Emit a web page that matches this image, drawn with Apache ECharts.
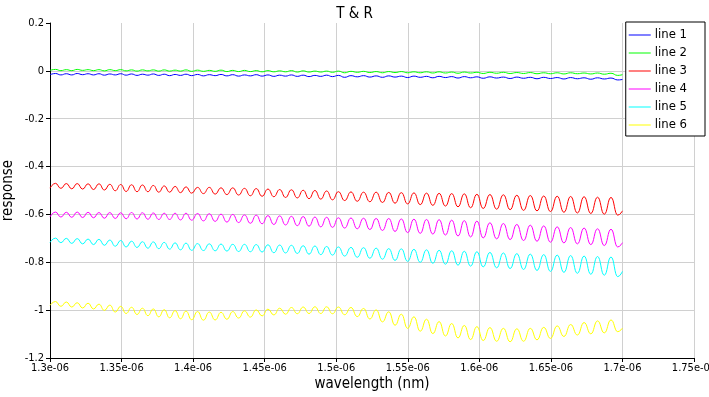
<!DOCTYPE html>
<html>
<head>
<meta charset="utf-8">
<script src="https://cdn.jsdelivr.net/npm/echarts@6/dist/echarts.min.js"></script>
<style>
  html, body { margin: 0; padding: 0; background: #fff; }
  #main { width: 709px; height: 397px; }
</style>
</head>
<body>
<div id="main"></div>
<script>
// wavelength samples, in units of 1e-6 (labels add the e-06)
var wl = [1.3000, 1.3038, 1.3076, 1.3114, 1.3152, 1.3190, 1.3228, 1.3266, 1.3304, 1.3342,
  1.3380, 1.3418, 1.3456, 1.3494, 1.3532, 1.3570, 1.3608, 1.3646, 1.3684, 1.3722,
  1.3760, 1.3798, 1.3836, 1.3874, 1.3912, 1.3950, 1.3990, 1.4031, 1.4072, 1.4113,
  1.4154, 1.4195, 1.4236, 1.4277, 1.4318, 1.4359, 1.4400, 1.4441, 1.4482, 1.4523,
  1.4564, 1.4605, 1.4646, 1.4687, 1.4728, 1.4769, 1.4810, 1.4851, 1.4892, 1.4933,
  1.4974, 1.5015, 1.5059, 1.5103, 1.5147, 1.5191, 1.5235, 1.5279, 1.5323, 1.5367,
  1.5411, 1.5455, 1.5499, 1.5543, 1.5587, 1.5631, 1.5675, 1.5719, 1.5763, 1.5807,
  1.5851, 1.5895, 1.5939, 1.5983, 1.6027, 1.6074, 1.6121, 1.6168, 1.6215, 1.6262,
  1.6309, 1.6356, 1.6403, 1.6450, 1.6497, 1.6544, 1.6591, 1.6638, 1.6685, 1.6732,
  1.6779, 1.6826, 1.6873, 1.6920, 1.6967, 1.7000];

var line1 = [-0.016, -0.011, -0.017, -0.012, -0.017, -0.011, -0.016, -0.012, -0.017, -0.012,
  -0.018, -0.013, -0.017, -0.012, -0.018, -0.013, -0.019, -0.014, -0.018, -0.013,
  -0.019, -0.014, -0.020, -0.015, -0.019, -0.014, -0.020, -0.015, -0.021, -0.016,
  -0.020, -0.015, -0.021, -0.016, -0.022, -0.017, -0.021, -0.016, -0.022, -0.017,
  -0.023, -0.018, -0.022, -0.017, -0.023, -0.018, -0.024, -0.019, -0.023, -0.018,
  -0.024, -0.019, -0.027, -0.020, -0.025, -0.020, -0.026, -0.021, -0.027, -0.021,
  -0.026, -0.022, -0.028, -0.022, -0.027, -0.023, -0.029, -0.023, -0.028, -0.024,
  -0.030, -0.024, -0.029, -0.025, -0.031, -0.025, -0.030, -0.026, -0.032, -0.026,
  -0.031, -0.027, -0.033, -0.027, -0.032, -0.028, -0.034, -0.028, -0.033, -0.029,
  -0.035, -0.029, -0.034, -0.030, -0.038, -0.036];

var line2 = [0.002, 0.006, 0.001, 0.005, 0.001, 0.006, 0.002, 0.005, 0.001, 0.005,
  0.000, 0.005, 0.001, 0.005, 0.000, 0.004, -0.001, 0.004, 0.000, 0.004,
  -0.001, 0.004, -0.001, 0.003, -0.001, 0.004, -0.002, 0.003, -0.002, 0.002,
  -0.002, 0.003, -0.003, 0.002, -0.003, 0.002, -0.003, 0.001, -0.004, 0.001,
  -0.004, 0.000, -0.004, 0.001, -0.005, 0.000, -0.005, -0.001, -0.005, -0.001,
  -0.006, -0.001, -0.008, -0.002, -0.006, -0.002, -0.007, -0.003, -0.008, -0.003,
  -0.007, -0.003, -0.008, -0.004, -0.008, -0.004, -0.009, -0.004, -0.009, -0.005,
  -0.010, -0.005, -0.009, -0.006, -0.011, -0.006, -0.010, -0.006, -0.011, -0.007,
  -0.011, -0.007, -0.012, -0.008, -0.012, -0.008, -0.013, -0.008, -0.012, -0.009,
  -0.013, -0.009, -0.014, -0.010, -0.019, -0.016];

var line3 = [-0.490, -0.470, -0.491, -0.471, -0.493, -0.471, -0.494, -0.472, -0.496, -0.472,
  -0.498, -0.474, -0.501, -0.475, -0.504, -0.476, -0.505, -0.477, -0.505, -0.479,
  -0.507, -0.481, -0.507, -0.483, -0.509, -0.485, -0.511, -0.487, -0.513, -0.487,
  -0.515, -0.489, -0.517, -0.489, -0.519, -0.491, -0.522, -0.492, -0.524, -0.494,
  -0.526, -0.496, -0.529, -0.497, -0.531, -0.499, -0.534, -0.500, -0.536, -0.502,
  -0.539, -0.505, -0.542, -0.506, -0.545, -0.507, -0.547, -0.507, -0.550, -0.508,
  -0.553, -0.509, -0.556, -0.510, -0.559, -0.511, -0.562, -0.512, -0.565, -0.513,
  -0.568, -0.514, -0.572, -0.516, -0.575, -0.517, -0.578, -0.518, -0.580, -0.520,
  -0.583, -0.521, -0.585, -0.523, -0.588, -0.524, -0.591, -0.525, -0.594, -0.526,
  -0.596, -0.528, -0.599, -0.529, -0.603, -0.585];

var line4 = [-0.610, -0.590, -0.611, -0.591, -0.612, -0.590, -0.613, -0.591, -0.614, -0.592,
  -0.616, -0.592, -0.617, -0.593, -0.618, -0.592, -0.619, -0.593, -0.620, -0.594,
  -0.621, -0.595, -0.621, -0.595, -0.623, -0.595, -0.624, -0.596, -0.627, -0.597,
  -0.629, -0.599, -0.632, -0.600, -0.634, -0.602, -0.637, -0.603, -0.639, -0.605,
  -0.642, -0.606, -0.644, -0.608, -0.647, -0.609, -0.649, -0.611, -0.652, -0.612,
  -0.654, -0.614, -0.657, -0.615, -0.660, -0.616, -0.663, -0.617, -0.667, -0.617,
  -0.671, -0.619, -0.676, -0.620, -0.679, -0.621, -0.682, -0.622, -0.686, -0.624,
  -0.690, -0.626, -0.694, -0.628, -0.698, -0.635, -0.702, -0.638, -0.705, -0.642,
  -0.709, -0.645, -0.712, -0.648, -0.716, -0.652, -0.719, -0.655, -0.723, -0.657,
  -0.726, -0.660, -0.730, -0.662, -0.736, -0.718];

var line5 = [-0.717, -0.699, -0.718, -0.700, -0.721, -0.701, -0.723, -0.703, -0.726, -0.704,
  -0.729, -0.707, -0.733, -0.709, -0.736, -0.712, -0.738, -0.714, -0.741, -0.715,
  -0.743, -0.717, -0.745, -0.719, -0.748, -0.720, -0.750, -0.722, -0.751, -0.723,
  -0.752, -0.724, -0.753, -0.725, -0.755, -0.725, -0.756, -0.726, -0.757, -0.727,
  -0.760, -0.728, -0.761, -0.729, -0.763, -0.731, -0.766, -0.732, -0.768, -0.734,
  -0.770, -0.736, -0.774, -0.738, -0.779, -0.739, -0.783, -0.741, -0.787, -0.743,
  -0.792, -0.744, -0.796, -0.746, -0.800, -0.748, -0.804, -0.750, -0.808, -0.752,
  -0.812, -0.754, -0.816, -0.756, -0.819, -0.759, -0.823, -0.761, -0.826, -0.764,
  -0.830, -0.766, -0.834, -0.768, -0.838, -0.770, -0.842, -0.772, -0.846, -0.774,
  -0.850, -0.776, -0.854, -0.778, -0.860, -0.838];

var line6 = [-0.980, -0.964, -0.984, -0.966, -0.987, -0.969, -0.991, -0.971, -0.995, -0.975,
  -1.001, -0.979, -1.008, -0.984, -1.014, -0.988, -1.018, -0.992, -1.023, -0.995,
  -1.028, -0.998, -1.032, -1.002, -1.036, -1.004, -1.040, -1.006, -1.042, -1.008,
  -1.041, -1.009, -1.038, -1.006, -1.033, -1.003, -1.029, -0.999, -1.024, -0.996,
  -1.020, -0.992, -1.017, -0.989, -1.015, -0.987, -1.014, -0.986, -1.014, -0.986,
  -1.015, -0.987, -1.019, -0.989, -1.027, -0.993, -1.037, -0.999, -1.049, -1.007,
  -1.063, -1.017, -1.076, -1.028, -1.088, -1.038, -1.098, -1.048, -1.108, -1.056,
  -1.116, -1.064, -1.123, -1.069, -1.127, -1.073, -1.130, -1.076, -1.132, -1.078,
  -1.130, -1.076, -1.124, -1.072, -1.118, -1.066, -1.110, -1.060, -1.104, -1.052,
  -1.099, -1.045, -1.095, -1.041, -1.090, -1.075];

var names = ['line 1', 'line 2', 'line 3', 'line 4', 'line 5', 'line 6'];
var colors = ['#0000ff', '#00ff00', '#ff0000', '#ff00ff', '#00ffff', '#ffff00'];
var values = [line1, line2, line3, line4, line5, line6];

var font = "'DejaVu Sans Condensed', 'DejaVu Sans', sans-serif";
var chart = echarts.init(document.getElementById('main'));

var series = values.map(function (arr, k) {
  return {
    name: names[k],
    type: 'line',
    data: wl.map(function (x, i) { return [x, arr[i]]; }),
    smooth: 0.5,
    smoothMonotone: 'x',
    symbol: 'none',
    color: colors[k],
    lineStyle: { width: 1, color: colors[k] }
  };
});

var option = {
  animation: false,
  backgroundColor: '#fff',
  textStyle: { fontFamily: font },
  title: {
    text: 'T & R',
    left: 'center',
    top: 2,
    textStyle: { fontSize: 15, fontWeight: 'normal', color: '#000', fontFamily: font }
  },
  legend: {
    data: names,
    orient: 'vertical',
    right: 4,
    top: 22,
    backgroundColor: '#fff',
    borderColor: '#000',
    borderWidth: 1,
    borderRadius: 0,
    padding: [6, 18, 4, 3],
    itemGap: 4,
    itemWidth: 22,
    itemHeight: 1,
    icon: 'rect',
    textStyle: { fontSize: 13, lineHeight: 14, color: '#000', fontFamily: font, padding: [0, 0, 0, -1] }
  },
  grid: { left: 50, right: 15, top: 23, bottom: 39, outerBoundsMode: 'none' },
  xAxis: {
    type: 'value',
    min: 1.3,
    max: 1.75,
    interval: 0.05,
    name: 'wavelength (nm)',
    nameLocation: 'middle',
    nameGap: 19,
    nameMoveOverlap: false,
    nameTextStyle: { fontSize: 15, color: '#000', fontFamily: font },
    axisLine: { onZero: false, lineStyle: { color: '#000', width: 1 } },
    axisTick: { show: true, length: 4, lineStyle: { color: '#000' } },
    axisLabel: {
      fontSize: 11, color: '#000', margin: 5, fontFamily: font,
      formatter: function (v) { return v + 'e-06'; }
    },
    splitLine: { show: true, lineStyle: { color: '#d0d0d0', width: 1 } }
  },
  yAxis: {
    type: 'value',
    min: -1.2,
    max: 0.2,
    interval: 0.2,
    name: 'response',
    nameLocation: 'middle',
    nameGap: 34,
    nameMoveOverlap: false,
    nameTextStyle: { fontSize: 15, color: '#000', fontFamily: font },
    axisLine: { show: true, lineStyle: { color: '#000', width: 1 } },
    axisTick: { show: true, length: 4, lineStyle: { color: '#000' } },
    axisLabel: { fontSize: 11, color: '#000', margin: 6, fontFamily: font },
    splitLine: { show: true, showMaxLine: false, lineStyle: { color: '#d0d0d0', width: 1 } }
  },
  series: series
};

chart.setOption(option);
</script>
</body>
</html>
